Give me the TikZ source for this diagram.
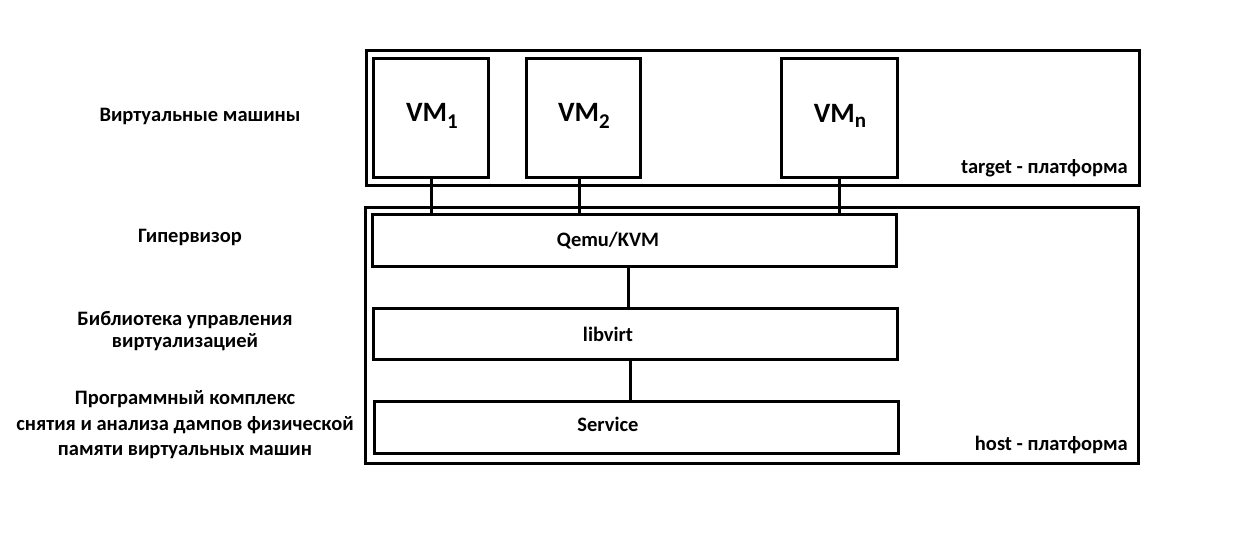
\documentclass[tikz,border=0pt]{standalone}
\usepackage{fontspec}
\setmainfont{Carlito}
\begin{document}
\begin{tikzpicture}[x=1pt,y=-1pt,
  box/.style={draw,line width=3pt,rectangle,inner sep=0pt,anchor=north west},
  lbl/.style={font=\fontsize{20.5}{22}\selectfont\bfseries,align=center,inner sep=0pt},
  vml/.style={font=\fontsize{28}{30}\selectfont\bfseries,inner sep=0pt},
  conn/.style={line width=3pt}]
\useasboundingbox (0,0) rectangle (1258,540);
% outer platforms
\node[box,minimum width=773pt,minimum height=135pt] (target) at (365,49) {};
\node[box,minimum width=773pt,minimum height=256pt] (host) at (364,206) {};
% VMs
\node[box,minimum width=115pt,minimum height=119pt] (vm1) at (372,57) {};
\node[box,minimum width=114pt,minimum height=119pt] (vm2) at (525,57) {};
\node[box,minimum width=116pt,minimum height=119pt] (vmn) at (780,57) {};
\node[vml] (t1) at (432,116) {VM\raisebox{-0.25em}{\fontsize{21}{22}\selectfont 1}};
\node[vml] (t2) at (584,116) {VM\raisebox{-0.25em}{\fontsize{21}{22}\selectfont 2}};
\node[vml] (tn) at (840,116) {VM\raisebox{-0.2em}{\fontsize{21}{22}\selectfont n}};
% layers
\node[box,minimum width=524pt,minimum height=52pt] (qemu) at (371,213) {};
\node[box,minimum width=524pt,minimum height=51pt] (libvirt) at (372,307) {};
\node[box,minimum width=524pt,minimum height=52pt] (service) at (373,400) {};
\node[lbl] (tq) at (608,241) {Qemu/KVM};
\node[lbl] (tl) at (608,334) {libvirt};
\node[lbl] (ts) at (608,424) {Service};
% platform labels
\node[lbl,anchor=east] (tt) at (1128,168) {target - платформа};
\node[lbl,anchor=east] (th) at (1128,445) {host - платформа};
% left labels
\node[lbl] (l1) at (200,116) {Виртуальные машины};
\node[lbl] (l2) at (190,237) {Гипервизор};
\node[lbl] (l3) at (185,331) {Библиотека управления\\виртуализацией};
\node[lbl,font=\fontsize{20.5}{25.5}\selectfont\bfseries] (l4) at (185,425) {Программный комплекс\\снятия и анализа дампов физической\\памяти виртуальных машин};
% connectors
\draw[conn] (vm1.south) -- (vm1.south |- qemu.north);
\draw[conn] ([xshift=-4pt]vm2.south) -- ([xshift=-4pt]vm2.south |- qemu.north);
\draw[conn] (vmn.south) -- (vmn.south |- qemu.north);
\draw[conn] ([xshift=-6pt]qemu.south) -- ([xshift=-6pt]qemu.south |- libvirt.north);
\draw[conn] ([xshift=-5pt]libvirt.south) -- ([xshift=-5pt]libvirt.south |- service.north);
\end{tikzpicture}
\end{document}
